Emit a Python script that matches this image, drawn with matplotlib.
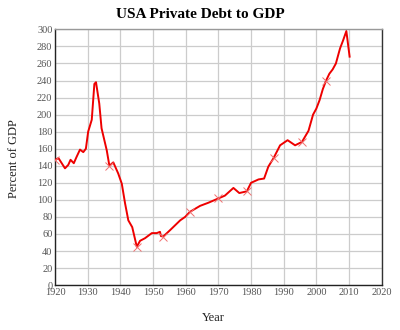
import matplotlib
matplotlib.use("Agg")
import matplotlib.pyplot as plt

years = [1920, 1921, 1922, 1923, 1924, 1924.7, 1925.7, 1926.5, 1927.6, 1928.6,
         1929.4, 1930.1, 1931.2, 1932, 1932.5, 1933.5, 1934.2, 1935.8, 1936.6, 1937.8,
         1939.3, 1940.4, 1941.4, 1942.4, 1943.6, 1945, 1946, 1947.5, 1949.6, 1951.1,
         1952.1, 1952.4, 1953.1, 1955.2, 1958.3, 1959.8, 1961.3, 1964.4, 1966.9, 1970,
         1972, 1974.6, 1976.4, 1978.7, 1980, 1982.3, 1984, 1985.3, 1986.9, 1988.9,
         1991.2, 1993.5, 1995.6, 1997.6, 1999, 2000, 2001, 2002, 2003, 2004,
         2005, 2006, 2007, 2007.3, 2008.2, 2009.2, 2010.2]
debt = [147, 149, 143, 137, 141, 147, 143, 150, 159, 156,
        160, 180, 194, 236, 238, 213, 184, 158, 140, 144,
        131, 119, 96, 76, 68, 45, 52, 55, 61, 61,
        62.5, 57.5, 57, 64.5, 76, 80, 86, 93, 96.6, 101.7,
        105, 114, 108, 110, 120, 124, 125, 139, 149, 164,
        170, 164, 168, 181, 200, 207, 217, 230, 240, 248,
        253, 260, 274, 278, 287, 298, 268]
marker_years = [1920, 1936.6, 1945, 1953.1, 1961.3, 1970, 1978.7, 1986.9, 1995.6, 2003]
marker_vals = [147, 140, 45, 57, 86, 101.7, 110, 149, 168, 240]

xticks = list(range(1920, 2021, 10))
yticks = list(range(0, 301, 20))

fig = plt.figure(figsize=(4, 3.3), dpi=100)
ax = fig.add_axes([0.138, 0.136, 0.816, 0.775])
ax.plot(years, debt, color="#ee0000", lw=1.4, zorder=3)
ax.plot(marker_years, marker_vals, ls="none", marker="x", ms=6, mew=0.7,
        color="#f07070", zorder=4)

ax.set_xlim(1920, 2020)
ax.set_ylim(0, 300)
ax.set_xticks(xticks)
ax.set_yticks(yticks)
ax.grid(True, color="#cccccc", lw=0.9)
ax.set_axisbelow(True)
ax.tick_params(length=0, pad=2, labelsize=7.5, labelcolor="#555555")
for lab in ax.get_xticklabels() + ax.get_yticklabels():
    lab.set_family("Liberation Serif")
ax.spines["left"].set_color("#222222")
ax.spines["bottom"].set_color("#222222")
ax.spines["right"].set_color("#333333")
ax.spines["top"].set_color("#999999")
for s in ax.spines.values():
    s.set_linewidth(1.0)

fig.text(0.5, 0.955, "USA Private Debt to GDP", ha="center", va="center",
         family="Liberation Serif", fontsize=11, fontweight="bold")
fig.text(0.035, 0.52, "Percent of GDP", ha="center", va="center", rotation=90,
         family="Liberation Serif", fontsize=9, color="#222222")
fig.text(0.533, 0.035, "Year", ha="center", va="center",
         family="Liberation Serif", fontsize=9, color="#222222")

fig.savefig("out.png", dpi=100)
